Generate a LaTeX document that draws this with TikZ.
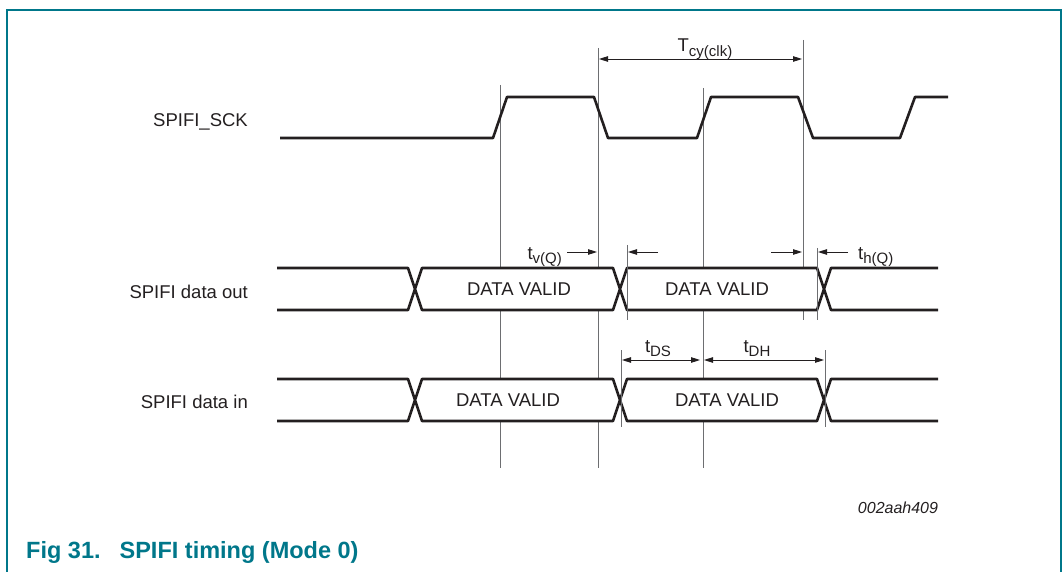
\documentclass[tikz,border=0pt]{standalone}
\usepackage{fontspec}
\setmainfont{Liberation Sans}
\usetikzlibrary{arrows.meta}
\definecolor{nxpteal}{HTML}{00778A}
\definecolor{wireblack}{HTML}{231F20}
\definecolor{guidegray}{HTML}{6D6E71}
\newcommand{\lowsub}[1]{\raisebox{-0.42ex}{\fontsize{15}{15}\selectfont #1}}

\begin{document}
\begin{tikzpicture}[x=1pt, y=-1pt,
    signal/.style={line width=2.6pt, draw=wireblack, line join=round},
    guide/.style={line width=0.9pt, draw=guidegray},
    dim/.style={line width=0.9pt, draw=wireblack, -{Triangle[length=9pt,width=5.5pt]}},
    lbl/.style={font=\fontsize{18.5}{20}\selectfont, text=wireblack, inner sep=0pt}]
    \useasboundingbox (0,0) rectangle (1063,572);

    % Frame
    \draw[nxpteal, line width=1.5pt] (7,572) -- (7,10) -- (1061,10) -- (1061,572);

    % Signal names
    \node[lbl, anchor=east] (sck) at (248,122) {SPIFI\_SCK};
    \node[lbl, anchor=east] (dout) at (248,292) {SPIFI data out};
    \node[lbl, anchor=east] (din) at (248,402) {SPIFI data in};

    % Clock edge guides (behind the data boxes)
    \draw[guide] (500,85) -- (500,468);
    \draw[guide] (598,48) -- (598,468);
    \draw[guide] (703,88) -- (703,468);
    \draw[guide] (803,40) -- (803,320);

    % Clock period
    \draw[dim, {Triangle[length=9pt,width=5.5pt]}-{Triangle[length=9pt,width=5.5pt]}] (599,59) -- (802,59);
    \node[lbl, anchor=base] (tcy) at (705,52) {T\lowsub{cy(clk)}};

    % Clock waveform
    \draw[signal] (280,138) -- (493,138) -- (507,97) -- (594,97) -- (608,138) -- (697,138)
        -- (711,97) -- (798,97) -- (813,138) -- (900,138) -- (915,97) -- (948,97);

    % Data out waveform
    \draw[signal] (277,268) -- (408,268) -- (415,289) -- (408,310) -- (277,310);
    \filldraw[signal, fill=white] (415,289) -- (422,268) -- (613,268) -- (620,289) -- (613,310) -- (422,310) -- cycle;
    \filldraw[signal, fill=white] (620,289) -- (627,268) -- (817,268) -- (824,289) -- (817,310) -- (627,310) -- cycle;
    \draw[signal] (938,268) -- (831,268) -- (824,289) -- (831,310) -- (938,310);
    \node[lbl] (dout-a) at (519,289) {DATA VALID};
    \node[lbl] (dout-b) at (717,289) {DATA VALID};

    % Data in waveform
    \draw[signal] (277,379) -- (408,379) -- (415,400) -- (408,421) -- (277,421);
    \filldraw[signal, fill=white] (415,400) -- (422,379) -- (613,379) -- (620,400) -- (613,421) -- (422,421) -- cycle;
    \filldraw[signal, fill=white] (620,400) -- (627,379) -- (817,379) -- (824,400) -- (817,421) -- (627,421) -- cycle;
    \draw[signal] (938,379) -- (831,379) -- (824,400) -- (831,421) -- (938,421);
    \node[lbl] (din-a) at (508,400) {DATA VALID};
    \node[lbl] (din-b) at (727,400) {DATA VALID};

    % Markers at the crossings
    \draw[guide] (627,245) -- (627,320);
    \draw[guide] (817,248) -- (817,320);
    \draw[guide] (621,350) -- (621,427);
    \draw[guide] (825,350) -- (825,427);

    % Output valid and hold times
    \draw[dim] (567,252) -- (597,252);
    \draw[dim] (658,252) -- (628,252);
    \node[lbl, anchor=base east] (tvq) at (562,259) {t\lowsub{v(Q)}};
    \draw[dim] (771,252) -- (802,252);
    \draw[dim] (848,252) -- (818,252);
    \node[lbl, anchor=base west] (thq) at (858,259) {t\lowsub{h(Q)}};

    % Input setup and hold times
    \draw[dim, {Triangle[length=9pt,width=5.5pt]}-{Triangle[length=9pt,width=5.5pt]}] (622,360) -- (700,360);
    \node[lbl, anchor=base] (tds) at (658,352) {t\lowsub{DS}};
    \draw[dim, {Triangle[length=9pt,width=5.5pt]}-{Triangle[length=9pt,width=5.5pt]}] (704,360) -- (824,360);
    \node[lbl, anchor=base] (tdh) at (757,352) {t\lowsub{DH}};

    % Figure id and caption
    \node[lbl, font=\itshape\fontsize{16}{18}\selectfont] (figid) at (898,508) {002aah409};
    \node[anchor=base west, inner sep=0pt, text=nxpteal, font=\bfseries\fontsize{23.5}{26}\selectfont] (caption) at (26,558) {Fig 31.\hspace{19pt}SPIFI timing (Mode 0)};
\end{tikzpicture}
\end{document}
